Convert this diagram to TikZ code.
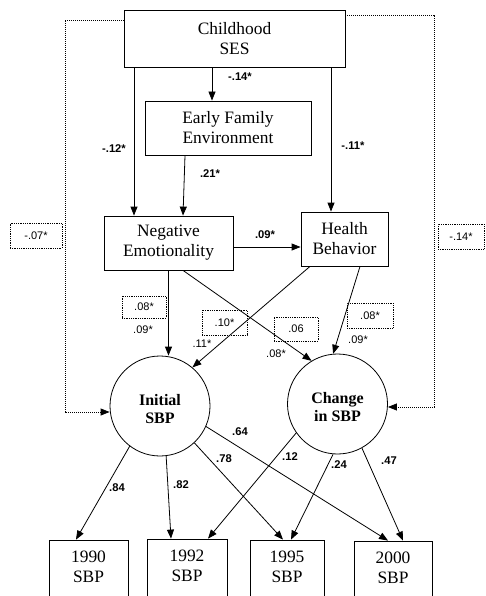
\documentclass[tikz,border=0pt]{standalone}
\usepackage{fontspec}
\setmainfont{Liberation Serif}
\newfontfamily\labfont{Liberation Sans}
\usetikzlibrary{arrows.meta,calc}
\begin{document}
\begin{tikzpicture}[x=1pt,y=-1pt,
  bx/.style={draw, line width=0.8pt, align=center, inner sep=0pt, font=\fontsize{17.4}{20}\selectfont},
  circ/.style={draw, circle, line width=0.8pt, minimum size=100pt, inner sep=0pt, align=center, font=\fontsize{16}{18}\selectfont\bfseries},
  arr/.style={-{Triangle[length=9pt,width=7pt]}, line width=0.8pt},
  dotl/.style={line width=0.8pt, dash pattern=on 0.8pt off 1.2pt},
  darr/.style={dotl, -{Triangle[length=9pt,width=7pt]}},
  bl/.style={font=\labfont\bfseries\fontsize{11.2}{13}\selectfont, inner sep=0pt},
  pl/.style={font=\labfont\fontsize{11}{13}\selectfont, inner sep=0pt},
  dbox/.style={pl, draw, line width=0.6pt, dash pattern=on 0.7pt off 1.1pt}
]
\path[use as bounding box] (0,0) rectangle (485,596);
\clip (0,0) rectangle (485,596);

% boxes
\node[bx, minimum width=221pt, minimum height=57pt] (ses) at (234.5,38.5) {Childhood\\SES};
\node[bx, minimum width=166pt, minimum height=54pt] (efe) at (228,128) {Early Family\\Environment};
\node[bx, minimum width=129pt, minimum height=54pt] (ne) at (168.5,243) {Negative\\Emotionality};
\node[bx, minimum width=87pt, minimum height=54pt] (hb) at (344.5,239) {Health\\Behavior};
\node[circ] (ini) at (160,406) {\rule{0pt}{18pt}Initial\\SBP};
\node[circ] (chg) at (337.5,404) {\rule{0pt}{18pt}Change\\in SBP};
\node[bx, minimum width=79pt, minimum height=60pt] (y90) at (88.5,570) {1990\\SBP\rule[-6pt]{0pt}{0pt}};
\node[bx, minimum width=80pt, minimum height=60pt] (y92) at (187,569) {1992\\SBP\rule[-6pt]{0pt}{0pt}};
\node[bx, minimum width=74pt, minimum height=60pt] (y95) at (287,570) {1995\\SBP\rule[-6pt]{0pt}{0pt}};
\node[bx, minimum width=78pt, minimum height=60pt] (y00) at (393,571) {2000\\SBP\rule[-6pt]{0pt}{0pt}};

% solid arrows
\coordinate (t1) at ([xshift=-16pt]efe.north);
\draw[arr] (ses.south -| t1) -- (t1);
\draw[arr] ([xshift=-43pt]efe.south) -- ([xshift=14.5pt]ne.north);
\coordinate (t2) at ([xshift=-34.5pt]ne.north);
\draw[arr] (ses.south -| t2) -- (t2);
\coordinate (t3) at ([xshift=-13.5pt]hb.north);
\draw[arr] (ses.south -| t3) -- (t3);
\coordinate (t4) at ([yshift=-4pt]ne.east);
\draw[arr] (t4) -- (t4 -| hb.west);
\draw[arr] (ne.south) -- (ne.south |- ini.north);
\draw[arr] ([xshift=14.5pt]ne.south) -- (chg.121);
\draw[arr] ([xshift=-34.5pt]hb.south) -- (ini.50);
\draw[arr] ([xshift=15.5pt]hb.south) -- (chg.95);
\draw[arr] (ini.-127) -- ([xshift=-12.5pt]y90.north);
\draw[arr] (ini.-83) -- ([xshift=-16pt]y92.north);
\draw[arr] (ini.-47) -- ([xshift=-4pt]y95.north);
\draw[arr] (ini.-24.5) -- ([xshift=-5pt]y00.north);
\draw[arr] (chg.-145) -- ([xshift=21pt]y92.north);
\draw[arr] (chg.-95) -- ([xshift=4pt]y95.north);
\draw[arr] (chg.-61) -- ([xshift=10pt]y00.north);

% dotted paths
\coordinate (lc) at (65,412);
\draw[darr] ([yshift=18.5pt]ses.west) -| (lc) -- (lc -| ini.west);
\coordinate (rc) at (434,407);
\draw[darr] ([yshift=23.5pt]ses.east) -| (rc) -- (rc -| chg.east);

% dotted boxes
\node[dbox, minimum width=52pt, minimum height=25pt] (d1) at (36,235.5) {-.07*};
\node[dbox, minimum width=46pt, minimum height=25pt] (d2) at (461,236.5) {-.14*};
\node[dbox, minimum width=44pt, minimum height=22pt] (d3) at (144,307) {.08*};
\node[dbox, minimum width=45pt, minimum height=25pt] (d4) at (224.5,322.5) {.10*};
\node[dbox, minimum width=44pt, minimum height=24pt] (d5) at (296,329) {.06};
\node[dbox, minimum width=46pt, minimum height=25pt] (d6) at (370,315.5) {.08*};

% plain labels
\node[pl] (p1) at (143,330) {.09*};
\node[pl] (p2) at (202,344) {.11*};
\node[pl] (p3) at (276,354) {.08*};
\node[pl] (p4) at (358,340) {.09*};

% bold labels
\node[bl] (b1) at (240,77) {-.14*};
\node[bl] (b2) at (114,149) {-.12*};
\node[bl] (b3) at (353,146) {-.11*};
\node[bl] (b4) at (210,174) {.21*};
\node[bl] (b5) at (265,235) {.09*};
\node[bl] (b6) at (117,488) {.84};
\node[bl] (b7) at (181,485) {.82};
\node[bl] (b8) at (224,459) {.78};
\node[bl] (b9) at (240,432) {.64};
\node[bl] (b10) at (290,457) {.12};
\node[bl] (b11) at (339,465) {.24};
\node[bl] (b12) at (389,461) {.47};
\end{tikzpicture}
\end{document}
